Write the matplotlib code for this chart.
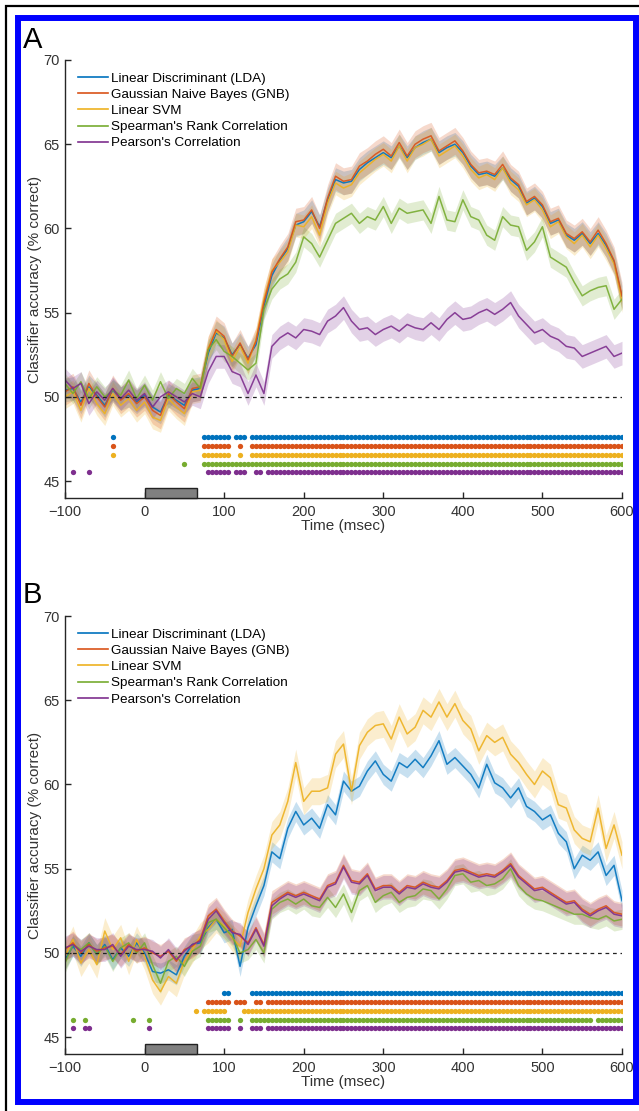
import numpy as np
import matplotlib
matplotlib.use("Agg")
import matplotlib.pyplot as plt
from matplotlib.patches import Rectangle

plt.rcParams['font.family'] = ['Liberation Sans', 'DejaVu Sans']

# time axis (msec)
t = np.arange(-100, 601, 10)

labels = ["Linear Discriminant (LDA)", "Gaussian Naive Bayes (GNB)", "Linear SVM",
          "Spearman's Rank Correlation", "Pearson's Correlation"]
colors = ["#0072BD", "#D95319", "#EDB120", "#77AC30", "#7E2F8E"]

# ---- panel A : classifier accuracy (% correct) ----
lda_a = [50.4, 50.5, 49.7, 50.6, 50.1, 49.5, 50.4, 49.9, 50.1, 49.7,
         50.1, 49.4, 49.1, 50.1, 49.8, 49.5, 50.4, 50.5, 52.6, 53.8,
         53.5, 52.5, 53.1, 52.3, 53.1, 55.4, 57.2, 58.1, 58.8, 60.2,
         60.4, 61.0, 60.1, 61.7, 62.9, 62.7, 62.8, 63.5, 63.9, 64.2,
         64.5, 64.2, 64.9, 64.2, 64.8, 65.1, 65.3, 64.5, 64.8, 65.0,
         64.5, 63.7, 63.2, 63.3, 63.1, 63.6, 62.9, 62.5, 61.5, 61.8,
         61.3, 60.3, 60.5, 59.6, 59.3, 59.7, 59.1, 59.7, 59.0, 58.0, 55.9]
gnb_a = [50.3, 50.6, 49.5, 50.8, 50.0, 49.4, 50.5, 49.8, 50.2, 49.6,
         50.0, 49.2, 48.9, 50.2, 49.7, 49.3, 50.5, 50.6, 52.8, 54.0,
         53.6, 52.4, 53.2, 52.2, 53.3, 55.6, 57.4, 58.2, 58.9, 60.4,
         60.5, 61.1, 60.0, 61.8, 63.1, 62.8, 62.9, 63.7, 64.0, 64.4,
         64.7, 64.3, 65.1, 64.3, 65.0, 65.3, 65.5, 64.6, 64.9, 65.2,
         64.6, 63.8, 63.3, 63.4, 63.2, 63.8, 63.0, 62.6, 61.6, 61.9,
         61.4, 60.4, 60.6, 59.7, 59.4, 59.8, 59.2, 59.9, 59.1, 58.1, 56.0]
svm_a = [50.0, 50.3, 49.2, 50.5, 49.6, 49.0, 50.2, 49.5, 49.9, 49.2,
         49.7, 48.8, 48.6, 49.9, 49.4, 49.0, 50.3, 50.4, 52.9, 53.9,
         53.4, 52.1, 53.0, 52.0, 53.4, 55.8, 57.5, 58.0, 58.6, 60.2,
         60.1, 60.7, 59.6, 61.5, 62.7, 62.4, 62.6, 63.3, 63.7, 64.1,
         64.4, 64.0, 64.9, 64.0, 64.8, 65.0, 65.3, 64.3, 64.6, 64.9,
         64.3, 63.5, 63.0, 63.2, 62.9, 63.6, 62.7, 62.3, 61.4, 61.7,
         61.1, 60.1, 60.4, 59.5, 59.1, 59.6, 58.9, 59.6, 58.8, 57.9, 55.7]
spear_a = [50.8, 50.2, 50.9, 49.9, 50.6, 50.0, 50.4, 50.1, 51.0, 49.9,
           50.7, 49.8, 50.9, 49.9, 50.5, 50.2, 51.1, 50.5, 52.8, 53.4,
           52.7, 52.4, 52.0, 51.6, 52.0, 55.2, 56.4, 57.0, 57.3, 58.0,
           59.5, 59.1, 58.3, 59.3, 60.3, 60.6, 60.9, 60.3, 60.7, 60.5,
           61.3, 60.3, 61.2, 60.9, 61.0, 61.1, 60.3, 61.9, 60.5, 60.4,
           61.7, 60.7, 60.5, 59.6, 59.3, 60.7, 60.2, 60.1, 58.7, 59.2,
           60.1, 58.3, 58.0, 57.7, 56.8, 56.0, 56.3, 56.5, 56.6, 55.2, 55.8]
pear_a = [51.0, 50.5, 50.8, 49.6, 50.3, 49.8, 50.5, 49.9, 50.4, 49.8,
          50.2, 49.4, 50.0, 50.3, 50.0, 49.7, 50.2, 50.0, 51.5, 52.4,
          52.4, 51.5, 51.3, 50.2, 51.3, 50.2, 53.0, 53.5, 53.8, 53.5,
          54.0, 53.9, 53.7, 54.5, 54.8, 55.3, 54.5, 54.0, 54.1, 53.7,
          54.0, 54.2, 53.9, 54.3, 54.1, 54.0, 54.4, 54.0, 54.6, 55.0,
          54.6, 54.7, 55.0, 55.2, 54.9, 55.2, 55.6, 54.8, 54.3, 53.8,
          54.0, 53.6, 53.4, 53.0, 52.9, 52.4, 52.6, 52.8, 53.0, 52.4, 52.6]
sem_a = [0.7, 0.8, 0.7, 0.6, 0.7]

# significant time windows (msec) per classifier, panel A
sig_a = [
    [(-40, -40), (75, 105), (115, 125), (135, 600)],
    [(-40, -40), (75, 105), (120, 120), (135, 600)],
    [(-40, -40), (75, 105), (120, 120), (135, 600)],
    [(50, 50), (75, 110), (115, 600)],
    [(-90, -90), (-70, -70), (80, 105), (115, 125), (140, 145), (155, 600)],
]

# ---- panel B ----
lda_b = [49.6, 50.4, 49.8, 50.6, 49.9, 50.5, 49.6, 50.3, 49.8, 50.6,
         50.0, 48.9, 48.8, 49.0, 48.7, 49.8, 50.5, 50.6, 51.5, 52.0,
         51.2, 51.4, 49.2, 51.5, 52.8, 54.0, 56.0, 55.6, 57.4, 58.4,
         57.6, 58.0, 57.4, 58.8, 58.2, 60.2, 59.6, 59.9, 60.8, 61.4,
         60.6, 60.2, 61.3, 61.0, 61.5, 61.0, 61.7, 62.6, 61.2, 61.6,
         61.1, 60.6, 59.8, 61.2, 60.1, 59.8, 59.2, 59.8, 58.7, 58.4,
         57.9, 58.2, 57.1, 56.6, 55.0, 55.8, 55.5, 56.0, 54.6, 55.2, 53.1]
gnb_b = [50.2, 50.6, 50.0, 50.5, 50.1, 50.3, 50.4, 49.9, 50.5, 50.1,
         50.3, 50.0, 49.8, 50.1, 49.5, 50.2, 50.4, 50.8, 52.2, 52.6,
         51.9, 51.3, 51.0, 50.6, 51.5, 50.5, 53.0, 53.3, 53.6, 53.4,
         53.6, 53.4, 53.2, 54.0, 54.2, 55.2, 54.3, 54.2, 54.7, 53.8,
         54.0, 54.0, 53.6, 54.0, 53.9, 54.2, 54.0, 53.9, 54.3, 54.9,
         55.0, 54.8, 54.6, 54.7, 54.6, 54.9, 55.3, 54.6, 54.2, 53.8,
         53.9, 53.6, 53.3, 53.0, 53.1, 52.6, 52.3, 52.6, 52.8, 52.4, 52.3]
svm_b = [49.8, 50.8, 49.4, 50.2, 49.3, 51.3, 50.2, 50.9, 49.5, 50.8,
         49.8, 48.4, 47.7, 48.6, 48.2, 49.5, 50.2, 51.0, 51.4, 52.0,
         51.6, 50.9, 50.4, 52.4, 53.8, 55.0, 57.0, 57.6, 59.0, 61.3,
         59.0, 59.6, 59.6, 59.8, 61.8, 62.4, 59.6, 62.3, 63.1, 63.5,
         63.6, 62.7, 64.0, 63.0, 63.4, 64.4, 64.0, 64.9, 64.0, 64.8,
         63.8, 63.3, 62.0, 62.9, 62.5, 62.8, 61.8, 61.3, 60.6, 60.0,
         60.8, 60.4, 58.8, 58.6, 57.3, 56.8, 56.6, 58.6, 56.2, 57.6, 55.8]
spear_b = [49.4, 50.5, 50.2, 50.6, 49.9, 50.4, 49.5, 50.3, 50.6, 50.0,
           50.6, 49.3, 48.2, 49.5, 49.8, 49.2, 50.1, 50.4, 51.8, 52.0,
           51.5, 51.0, 50.0, 50.2, 50.8, 50.0, 52.6, 53.0, 53.2, 52.9,
           53.2, 52.8, 52.7, 53.3, 52.7, 53.5, 52.4, 53.7, 54.0, 53.0,
           53.4, 53.6, 53.0, 53.3, 53.4, 53.8, 53.7, 53.2, 53.8, 54.6,
           54.7, 54.2, 54.3, 54.0, 54.1, 54.4, 55.0, 54.0, 53.5, 53.2,
           53.1, 52.9, 52.7, 52.5, 52.3, 52.3, 52.1, 52.0, 52.2, 51.9, 52.0]
pear_b = [50.3, 50.5, 50.1, 50.4, 50.2, 50.2, 50.5, 49.8, 50.4, 50.2,
          50.2, 50.1, 49.7, 50.2, 49.6, 50.1, 50.5, 50.7, 52.0, 52.5,
          51.8, 51.2, 51.1, 50.5, 51.4, 50.4, 52.8, 53.2, 53.5, 53.3,
          53.5, 53.3, 53.1, 53.9, 54.1, 55.1, 54.2, 54.1, 54.6, 53.7,
          53.9, 53.9, 53.5, 53.9, 53.8, 54.1, 53.9, 53.8, 54.2, 54.8,
          54.9, 54.7, 54.5, 54.6, 54.5, 54.8, 55.2, 54.5, 54.1, 53.7,
          53.8, 53.5, 53.2, 52.9, 53.0, 52.5, 52.2, 52.5, 52.7, 52.3, 52.2]
sem_b = [0.6, 0.7, 0.8, 0.6, 0.7]

sig_b = [
    [(100, 105), (135, 600)],
    [(80, 105), (115, 125), (140, 145), (155, 600)],
    [(65, 65), (75, 90), (95, 100), (125, 600)],
    [(-90, -90), (-75, -75), (-15, -15), (5, 5), (80, 105), (120, 120),
     (135, 145), (150, 560), (570, 600)],
    [(-90, -90), (-75, -70), (5, 5), (80, 105), (120, 120), (135, 145), (155, 600)],
]

stim_on, stim_off = 0, 66      # stimulus bar (msec)
sig_levels = [47.6, 47.08, 46.56, 46.04, 45.52]
dot_step = 5                   # msec spacing of significance dots

gray = "#262626"


def draw_panel(ax, series, sems, sig, draw_order):
    for i in draw_order:
        y = np.array(series[i])
        ax.fill_between(t, y - sems[i], y + sems[i], color=colors[i],
                        alpha=0.22, linewidth=0)
    for i in draw_order:
        ax.plot(t, series[i], color=colors[i], lw=1.1, alpha=0.9)
    # legend in fixed order
    handles = [plt.Line2D([], [], color=c, lw=1.2) for c in colors]
    ax.legend(handles, labels, loc="upper left", bbox_to_anchor=(0.023, 0.972),
              frameon=False, fontsize=9.7, handlelength=2.25, handletextpad=0.2,
              labelspacing=0.28, borderaxespad=0, borderpad=0)
    ax.axhline(50, color="#222222", ls=(0, (3, 3)), lw=0.9)
    for i, wins in enumerate(sig):
        for a, b in wins:
            xs = np.arange(a, b + 1, dot_step)
            ax.plot(xs, np.full(len(xs), sig_levels[i]), "o", color=colors[i],
                    ms=3.8, mec="none")
    ax.add_patch(Rectangle((stim_on, 44), stim_off - stim_on, 0.6,
                           facecolor="#808080", edgecolor="#222222", lw=1.0,
                           clip_on=False, zorder=5))
    ax.set_xlim(-100, 600)
    ax.set_ylim(44, 70)
    ax.set_xticks(range(-100, 601, 100))
    ax.set_yticks(range(45, 71, 5))
    for s in ["top", "right"]:
        ax.spines[s].set_visible(False)
    for s in ["left", "bottom"]:
        ax.spines[s].set_color(gray)
        ax.spines[s].set_linewidth(1.0)
    ax.tick_params(direction="in", length=4, width=1.0, colors=gray,
                   labelsize=10.5, labelcolor="#333333", pad=5)
    ax.tick_params(axis="y", pad=4)
    ax.set_xlabel("Time (msec)", fontsize=11, color="#333333", labelpad=0)
    ax.set_ylabel("Classifier accuracy (% correct)", fontsize=11,
                  color="#333333", labelpad=1)


fig = plt.figure(figsize=(6.39, 11.11), dpi=100)

ax_a = fig.add_axes([0.1017, 0.5518, 0.8717, 0.3942])
draw_panel(ax_a, [lda_a, gnb_a, svm_a, spear_a, pear_a], sem_a, sig_a,
           [0, 2, 1, 3, 4])
ax_b = fig.add_axes([0.1017, 0.0513, 0.8717, 0.3942])
draw_panel(ax_b, [lda_b, gnb_b, svm_b, spear_b, pear_b], sem_b, sig_b,
           [0, 2, 3, 1, 4])

fig.text(23 / 639, 1 - 48 / 1111, "A", fontsize=21, color="black")
fig.text(23 / 639, 1 - 603 / 1111, "B", fontsize=21, color="black")

# frames around the figure
W, H = 639, 1111
fig.add_artist(Rectangle((6 / W, -0.01), 1.02, 1 - 6 / H + 0.01,
                         transform=fig.transFigure, fill=False,
                         edgecolor="black", lw=1.6))
fig.add_artist(Rectangle((18 / W, 1 - 1101.5 / H), (636 - 18) / W,
                         (1101.5 - 18) / H, transform=fig.transFigure,
                         fill=False, edgecolor="#0000FF", lw=4.3))

fig.savefig("out.png", dpi=100)
